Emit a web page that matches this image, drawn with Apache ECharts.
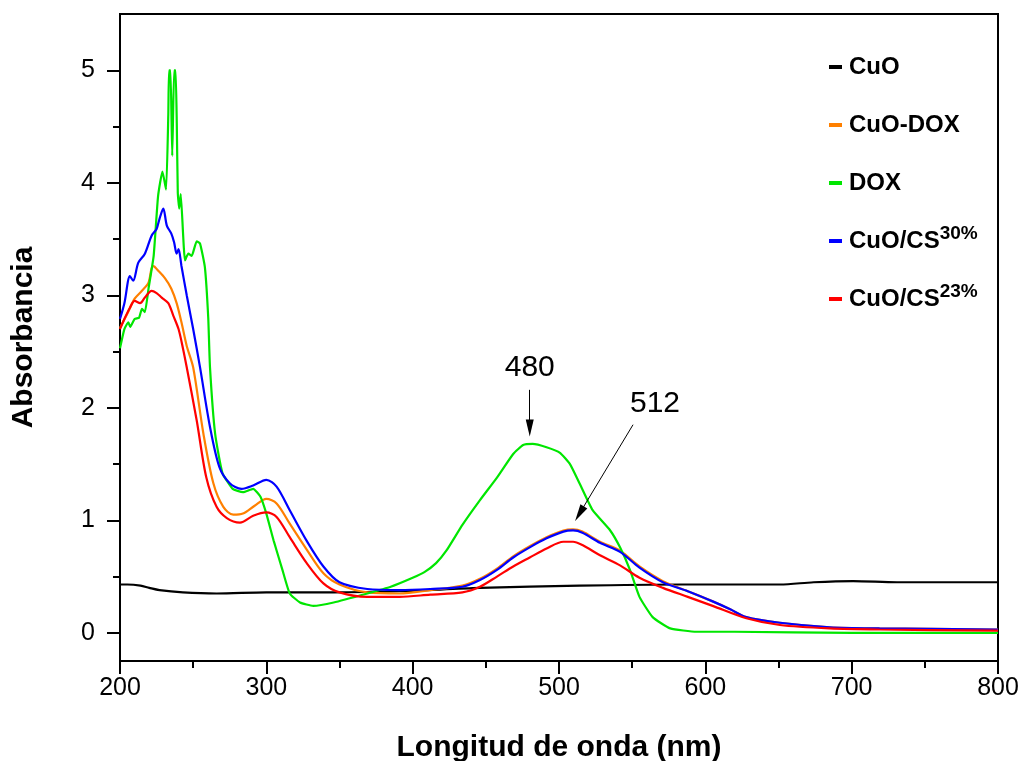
<!DOCTYPE html>
<html>
<head>
<meta charset="utf-8">
<script src="https://cdn.jsdelivr.net/npm/echarts@6/dist/echarts.min.js"></script>
<style>
  html, body { margin: 0; padding: 0; background: #fff; }
  #chart { width: 1021px; height: 761px; }
</style>
</head>
<body>
<div id="chart"></div>
<script>
// UV-Vis absorption spectra: wavelength (nm) and absorbance for each sample
const cuoWl  = [200, 205, 214, 220, 227, 243, 266, 300, 346, 391, 446, 514, 583, 617, 651, 674, 701, 731, 760, 800];
const cuoAbs = [0.43, 0.43, 0.42, 0.40, 0.38, 0.36, 0.35, 0.36, 0.36, 0.37, 0.40, 0.42, 0.43, 0.43, 0.43, 0.45, 0.46, 0.45, 0.45, 0.45];

const cuoDoxWl  = [200, 205.5, 210, 215, 219.4, 221.6, 222.8, 226, 230.8, 235, 238.7, 242, 245.6, 250, 257, 263.8, 270.6, 277.4, 284, 292, 300, 307, 316, 327.6, 339, 350, 369, 391, 412, 434, 446, 457.6, 468.7, 480, 491.5, 503, 509.6, 516, 528, 541.7, 555, 571, 588, 605, 617, 628, 651, 685, 719, 800];
const cuoDoxAbs = [2.71, 2.85, 2.97, 3.04, 3.11, 3.24, 3.26, 3.22, 3.15, 3.06, 2.93, 2.76, 2.55, 2.36, 1.77, 1.33, 1.12, 1.05, 1.06, 1.13, 1.19, 1.15, 0.97, 0.74, 0.53, 0.43, 0.36, 0.35, 0.38, 0.42, 0.48, 0.57, 0.68, 0.77, 0.85, 0.91, 0.92, 0.90, 0.81, 0.73, 0.59, 0.46, 0.37, 0.28, 0.21, 0.14, 0.09, 0.05, 0.04, 0.03];

const doxWl  = [200, 203, 205.7, 207, 210, 213, 215, 217, 219.5, 223, 226, 229, 231.5, 233, 233.5, 234.5, 235.7, 237, 238, 238.8, 239.5, 240.5, 241.5, 244.4, 246.7, 249, 252.4, 254.7, 258, 260.3, 261.5, 265, 270, 277, 284, 291, 296, 300, 305, 311, 316, 323, 332, 346, 369, 385, 400, 408, 416, 423, 434, 446, 457.6, 468.7, 475.5, 482, 491.5, 500.7, 507.5, 514, 523, 535, 541.7, 548.5, 555, 564, 576, 594, 620, 700, 800];
const doxAbs = [2.53, 2.70, 2.76, 2.72, 2.79, 2.80, 2.88, 2.85, 3.06, 3.35, 3.88, 4.10, 3.94, 4.60, 5.00, 5.00, 4.24, 5.00, 5.00, 4.53, 3.91, 3.77, 3.90, 3.31, 3.37, 3.35, 3.48, 3.46, 3.25, 2.80, 2.36, 1.77, 1.42, 1.28, 1.25, 1.28, 1.21, 1.06, 0.82, 0.56, 0.35, 0.27, 0.24, 0.27, 0.35, 0.41, 0.49, 0.54, 0.62, 0.73, 0.96, 1.18, 1.38, 1.59, 1.67, 1.68, 1.65, 1.60, 1.50, 1.33, 1.09, 0.91, 0.76, 0.56, 0.32, 0.14, 0.04, 0.01, 0.01, 0.00, 0.00];

const cs30Wl  = [200, 203, 206.8, 209, 212.5, 217, 221.6, 225, 227, 229.6, 232, 235, 237, 238.7, 240, 242, 245.6, 250, 254.7, 261.5, 268, 275, 283, 291, 300, 307, 316, 327.5, 339, 350, 369, 391, 412, 434, 446, 457.6, 468.7, 480, 491.5, 503, 509.6, 516, 528, 541.7, 555, 571, 588, 605, 617, 628, 651, 685, 719, 800];
const cs30Abs = [2.79, 2.93, 3.17, 3.13, 3.29, 3.37, 3.53, 3.59, 3.68, 3.77, 3.62, 3.55, 3.47, 3.37, 3.41, 3.26, 3.00, 2.70, 2.36, 1.83, 1.47, 1.33, 1.28, 1.31, 1.36, 1.30, 1.09, 0.82, 0.59, 0.45, 0.39, 0.38, 0.39, 0.41, 0.47, 0.56, 0.67, 0.76, 0.84, 0.90, 0.91, 0.89, 0.80, 0.72, 0.58, 0.45, 0.37, 0.28, 0.21, 0.14, 0.09, 0.05, 0.04, 0.03];

const cs23Wl  = [200, 203, 206.8, 210, 213.7, 217, 221.6, 225, 228.5, 233, 236.4, 240, 243, 245.6, 252.4, 259, 266, 273, 282, 291, 300, 307, 316, 327.6, 339, 350, 369, 391, 412, 434, 446, 457.6, 468.7, 480, 491.5, 503, 509.6, 516, 528, 541.7, 555, 571, 588, 605, 628, 651, 685, 719, 800];
const cs23Abs = [2.70, 2.79, 2.89, 2.95, 2.93, 2.98, 3.04, 3.02, 2.98, 2.93, 2.82, 2.70, 2.53, 2.36, 1.89, 1.38, 1.12, 1.02, 0.98, 1.04, 1.07, 1.03, 0.85, 0.62, 0.44, 0.36, 0.32, 0.32, 0.34, 0.36, 0.41, 0.50, 0.59, 0.67, 0.75, 0.81, 0.81, 0.78, 0.69, 0.60, 0.49, 0.40, 0.32, 0.24, 0.13, 0.07, 0.04, 0.03, 0.02];

// Legend names: base text plus an optional superscript
const nameBase = ['CuO', 'CuO-DOX', 'DOX', 'CuO/CS', 'CuO/CS'];
const nameSup  = ['', '', '', '30%', '23%'];
const colors   = ['#000000', '#ff8000', '#00e600', '#0000ff', '#ff0000'];

// Axis ticks
const yMajorTicks = [0, 1, 2, 3, 4, 5];
const yMinorTicks = [0.5, 1.5, 2.5, 3.5, 4.5];

// Marked absorption maxima (nm)
const peakLabels = ['480', '512'];

const FONT = "'Liberation Sans', Arial, sans-serif";
const names = nameBase.map((b, i) => b + nameSup[i]);
const pairs = (xs, ys) => xs.map((x, i) => [x, ys[i]]);
const spectra = [
  pairs(cuoWl, cuoAbs),
  pairs(cuoDoxWl, cuoDoxAbs),
  pairs(doxWl, doxAbs),
  pairs(cs30Wl, cs30Abs),
  pairs(cs23Wl, cs23Abs)
];

const lineSeries = spectra.map((data, i) => ({
  name: names[i],
  type: 'line',
  data: data,
  showSymbol: false,
  symbol: 'none',
  smooth: i === 2 ? 0.15 : 0.3,
  lineStyle: { color: colors[i], width: 2.2 },
  itemStyle: { color: colors[i] },
  z: 2 + i
}));

// Peak annotations: text placed above each arrow, arrow tips at the peaks
const peak480 = Number(peakLabels[0]);
const peak512 = Number(peakLabels[1]);
const annotation = {
  name: 'peaks',
  type: 'scatter',
  symbol: 'circle',
  symbolSize: 0,
  itemStyle: { color: '#000' },
  silent: true,
  z: 10,
  data: [
    { name: peakLabels[0], value: [peak480, 2.355] },
    { name: peakLabels[1], value: [565.6, 2.04] }
  ],
  label: {
    show: true,
    position: 'inside',
    formatter: '{b}',
    fontFamily: FONT,
    fontSize: 30,
    color: '#000',
    opacity: 1,
    textBorderWidth: 0
  },
  markLine: {
    silent: true,
    symbol: ['none', 'triangle'],
    symbolSize: [8, 17],
    label: { show: false },
    lineStyle: { color: '#000', width: 1, type: 'solid' },
    data: [
      [{ coord: [peak480, 2.16] }, { coord: [peak480, 1.82] }],
      [{ coord: [550.6, 1.85] }, { coord: [peak512 + 2, 1.06] }]
    ]
  }
};

const chart = echarts.init(document.getElementById('chart'), null, { renderer: 'canvas' });

const baseY = {
  type: 'value',
  min: -0.25,
  max: 5.5,
  splitLine: { show: false },
  axisLine: { show: true, lineStyle: { color: '#000', width: 2 } }
};

chart.setOption({
  animation: false,
  backgroundColor: '#fff',
  textStyle: { fontFamily: FONT },
  grid: {
    left: 120, right: 23, top: 14, bottom: 100,
    show: true, borderColor: '#000', borderWidth: 2,
    containLabel: false,
    outerBoundsMode: 'none'
  },
  legend: {
    orient: 'vertical',
    left: 829,
    top: 50,
    padding: 0,
    itemGap: 24,
    itemWidth: 13,
    itemHeight: 4,
    icon: 'rect',
    selectedMode: false,
    data: names,
    formatter: function (name) {
      const i = names.indexOf(name);
      return nameSup[i]
        ? '{m|' + nameBase[i] + '}{s|' + nameSup[i] + '}'
        : '{m|' + nameBase[i] + '}';
    },
    textStyle: {
      fontFamily: FONT,
      fontSize: 24,
      fontWeight: 'bold',
      color: '#000',
      lineHeight: 34,
      padding: [0, 0, 0, 2],
      rich: {
        m: { fontFamily: FONT, fontSize: 24, fontWeight: 'bold', color: '#000', lineHeight: 34 },
        s: { fontFamily: FONT, fontSize: 19, fontWeight: 'bold', color: '#000', lineHeight: 19, verticalAlign: 'top' }
      }
    }
  },
  xAxis: {
    type: 'value',
    min: 200,
    max: 800,
    interval: 100,
    name: 'Longitud de onda (nm)',
    nameLocation: 'middle',
    nameGap: 72,
    nameTextStyle: { fontFamily: FONT, fontSize: 30, fontWeight: 'bold', color: '#000' },
    splitLine: { show: false },
    axisLine: { show: true, onZero: false, lineStyle: { color: '#000', width: 2 } },
    axisTick: { show: true, length: 13, lineStyle: { color: '#000', width: 2 } },
    minorTick: { show: true, splitNumber: 2, length: 7, lineStyle: { color: '#000', width: 2 } },
    axisLabel: { fontFamily: FONT, fontSize: 25, color: '#000', margin: 15 }
  },
  yAxis: [
    Object.assign({}, baseY, {
      name: 'Absorbancia',
      nameLocation: 'middle',
      nameGap: 81,
      nameTextStyle: { fontFamily: FONT, fontSize: 30, fontWeight: 'bold', color: '#000' },
      axisTick: { show: true, length: 13, customValues: yMajorTicks, lineStyle: { color: '#000', width: 2 } },
      axisLabel: { show: true, customValues: yMajorTicks, fontFamily: FONT, fontSize: 25, color: '#000', margin: 25 }
    }),
    Object.assign({}, baseY, {
      position: 'left',
      offset: 0,
      axisTick: { show: true, length: 7, customValues: yMinorTicks, lineStyle: { color: '#000', width: 2 } },
      axisLabel: { show: false }
    })
  ],
  series: lineSeries.concat([annotation])
});
</script>
</body>
</html>
